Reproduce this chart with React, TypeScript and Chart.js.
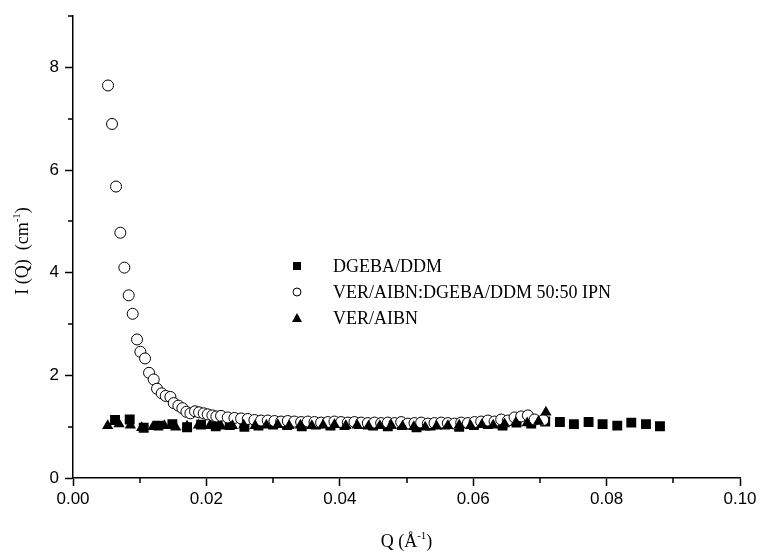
import React, { useEffect, useRef } from "react";
import { Chart, registerables } from "chart.js";

Chart.register(...registerables);

// ---- data ----
const ipnQ = [
  0.00525, 0.00585, 0.00645, 0.0071, 0.0077, 0.00835, 0.00895, 0.0096, 0.0101, 0.0108,
  0.0114, 0.0121, 0.0126, 0.0133, 0.0139, 0.0146, 0.0151, 0.0158, 0.0164, 0.017,
  0.0176, 0.0183, 0.0189, 0.0196, 0.0202, 0.0209, 0.0215, 0.0222, 0.0232, 0.0242,
  0.0252, 0.0262, 0.0272, 0.0282, 0.0292, 0.0302, 0.0312, 0.0322, 0.0332, 0.0342,
  0.0352, 0.0362, 0.0372, 0.0382, 0.0392, 0.0402, 0.0412, 0.0422, 0.0432, 0.0442,
  0.0452, 0.0462, 0.0472, 0.0482, 0.0492, 0.0502, 0.0512, 0.0522, 0.0532, 0.0542,
  0.0552, 0.0562, 0.0572, 0.0582, 0.0592, 0.0602, 0.0612, 0.0622, 0.0632, 0.0642,
  0.0652, 0.0662, 0.0672, 0.0682, 0.0692, 0.0705,
];
const ipnI = [
  7.65, 6.9, 5.68, 4.78, 4.1, 3.56, 3.2, 2.7, 2.46, 2.33,
  2.05, 1.92, 1.74, 1.65, 1.6, 1.58, 1.46, 1.41, 1.36, 1.29,
  1.26, 1.3, 1.28, 1.26, 1.24, 1.22, 1.2, 1.21, 1.18, 1.17,
  1.16, 1.15, 1.13, 1.12, 1.12, 1.11, 1.1, 1.11, 1.1, 1.09,
  1.1, 1.09, 1.08, 1.09, 1.1, 1.09, 1.08, 1.09, 1.08, 1.07,
  1.08, 1.07, 1.08, 1.07, 1.09, 1.06, 1.07, 1.08, 1.06, 1.07,
  1.08, 1.07, 1.06, 1.08, 1.07, 1.09, 1.1, 1.12, 1.1, 1.14,
  1.12, 1.18, 1.2, 1.22, 1.14, 1.13,
];

const dgebaQ = [
  0.0063, 0.0085, 0.0106, 0.0128, 0.0149, 0.0171, 0.0192, 0.0214, 0.0235, 0.0257,
  0.0278, 0.03, 0.0321, 0.0343, 0.0364, 0.0386, 0.0407, 0.0429, 0.045, 0.0472,
  0.0493, 0.0515, 0.0536, 0.0558, 0.0579, 0.0601, 0.0622, 0.0644, 0.0665, 0.0687,
  0.0708, 0.073, 0.0751, 0.0773, 0.0794, 0.0816, 0.0837, 0.0859, 0.088,
];
const dgebaI = [
  1.13, 1.14, 0.98, 1.02, 1.05, 0.99, 1.04, 1.01, 1.03, 1.0,
  1.02, 1.04, 1.03, 1.01, 1.04, 1.02, 1.03, 1.05, 1.02, 1.01,
  1.03, 0.99, 1.02, 1.04, 1.0, 1.03, 1.05, 1.02, 1.08, 1.06,
  1.1, 1.09, 1.05, 1.09, 1.05, 1.02, 1.08, 1.05, 1.01,
];

const verQ = [
  0.0052, 0.0069, 0.0086, 0.0103, 0.012, 0.0137, 0.0154, 0.0171, 0.0188, 0.0205,
  0.0222, 0.0239, 0.0256, 0.0273, 0.029, 0.0307, 0.0324, 0.0341, 0.0358, 0.0375,
  0.0392, 0.0409, 0.0426, 0.0443, 0.046, 0.0477, 0.0494, 0.0511, 0.0528, 0.0545,
  0.0562, 0.0579, 0.0596, 0.0613, 0.063, 0.0647, 0.0664, 0.0681, 0.0698, 0.0709,
];
const verI = [
  1.02, 1.05, 1.03, 0.98, 1.0, 1.02, 0.99, 1.01, 1.03, 1.02,
  1.01, 1.02, 1.03, 1.02, 1.03, 1.04, 1.02, 1.03, 1.02, 1.03,
  1.04, 1.02, 1.03, 1.01, 1.02, 1.03, 1.01, 1.0, 0.99, 1.01,
  1.02, 1.03, 1.02, 1.04, 1.03, 1.05, 1.08, 1.07, 1.1, 1.28,
];

const seriesNames = ["DGEBA/DDM", "VER/AIBN:DGEBA/DDM 50:50 IPN", "VER/AIBN"];
const xTicks = [0, 0.02, 0.04, 0.06, 0.08, 0.1];
const xMinorTicks = [0.01, 0.03, 0.05, 0.07, 0.09];
const yTicks = [0, 2, 4, 6, 8];
const yMinorTicks = [1, 3, 5, 7, 9];

const SERIF = "'Liberation Serif', 'Times New Roman', serif";
const SANS = "'Liberation Sans', Arial, sans-serif";

const zip = (xs: number[], ys: number[]) => xs.map((x, i) => ({ x, y: ys[i] }));

const decorPlugin = {
  id: "decor",
  afterDraw(chart: any) {
    const ctx = chart.ctx as CanvasRenderingContext2D;
    const xs = chart.scales.x;
    const ys = chart.scales.y;
    const area = chart.chartArea;
    ctx.save();
    ctx.strokeStyle = "#000";
    ctx.lineWidth = 1.5;
    // minor ticks
    ctx.beginPath();
    for (const v of xMinorTicks) {
      const px = Math.round(xs.getPixelForValue(v));
      ctx.moveTo(px, area.bottom);
      ctx.lineTo(px, area.bottom + 5);
    }
    for (const v of yMinorTicks) {
      const py = Math.round(ys.getPixelForValue(v));
      ctx.moveTo(area.left, py);
      ctx.lineTo(area.left - 5, py);
    }
    ctx.stroke();

    ctx.fillStyle = "#000";
    // x title: Q (Å-1)
    {
      const main = "18px " + SERIF;
      const sup = "11px " + SERIF;
      const parts = [
        { t: "Q (Å", f: main, dy: 0 },
        { t: "-1", f: sup, dy: -8 },
        { t: ")", f: main, dy: 0 },
      ];
      let w = 0;
      for (const p of parts) {
        ctx.font = p.f;
        w += ctx.measureText(p.t).width;
      }
      let x = (area.left + area.right) / 2 - w / 2;
      const y = 547;
      ctx.textBaseline = "alphabetic";
      ctx.textAlign = "left";
      for (const p of parts) {
        ctx.font = p.f;
        ctx.fillText(p.t, x, y + p.dy);
        x += ctx.measureText(p.t).width;
      }
    }
    // y title: I (Q) (cm-1)
    {
      const main = "18px " + SERIF;
      const sup = "11px " + SERIF;
      const parts = [
        { t: "I (Q)  (cm", f: main, dy: 0 },
        { t: "-1", f: sup, dy: -8 },
        { t: ")", f: main, dy: 0 },
      ];
      let w = 0;
      for (const p of parts) {
        ctx.font = p.f;
        w += ctx.measureText(p.t).width;
      }
      ctx.save();
      ctx.translate(28, 251);
      ctx.rotate(-Math.PI / 2);
      let x = -w / 2;
      ctx.textBaseline = "alphabetic";
      ctx.textAlign = "left";
      for (const p of parts) {
        ctx.font = p.f;
        ctx.fillText(p.t, x, p.dy);
        x += ctx.measureText(p.t).width;
      }
      ctx.restore();
    }
    // legend
    {
      const mx = 297;
      const tx = 333;
      const rows = [266, 292, 318];
      ctx.font = "18px " + SERIF;
      ctx.textBaseline = "middle";
      ctx.textAlign = "left";
      rows.forEach((ry, i) => {
        ctx.fillStyle = "#000";
        ctx.strokeStyle = "#000";
        ctx.lineWidth = 1;
        if (i === 0) {
          ctx.fillRect(mx - 4, ry - 4, 8, 8);
        } else if (i === 1) {
          ctx.beginPath();
          ctx.arc(mx, ry, 4, 0, Math.PI * 2);
          ctx.fillStyle = "#fff";
          ctx.fill();
          ctx.stroke();
          ctx.fillStyle = "#000";
        } else {
          ctx.beginPath();
          ctx.moveTo(mx, ry - 5);
          ctx.lineTo(mx + 5, ry + 4);
          ctx.lineTo(mx - 5, ry + 4);
          ctx.closePath();
          ctx.fill();
        }
        ctx.fillText(seriesNames[i], tx, ry + 1);
      });
    }
    ctx.restore();
  },
};

export default function App() {
  const ref = useRef<HTMLCanvasElement | null>(null);
  useEffect(() => {
    document.body.style.margin = "0";
    const canvas = ref.current!;
    const chart = new Chart(canvas, {
      type: "scatter",
      data: {
        datasets: [
          {
            label: seriesNames[0],
            data: zip(dgebaQ, dgebaI),
            pointStyle: "rect",
            pointRadius: 7,
            backgroundColor: "#000",
            borderColor: "#000",
            borderWidth: 0,
            order: 3,
          },
          {
            label: seriesNames[1],
            data: zip(ipnQ, ipnI),
            pointStyle: "circle",
            pointRadius: 5.5,
            backgroundColor: "#fff",
            borderColor: "#000",
            borderWidth: 1,
            order: 2,
          },
          {
            label: seriesNames[2],
            data: zip(verQ, verI),
            pointStyle: "triangle",
            pointRadius: 6.5,
            backgroundColor: "#000",
            borderColor: "#000",
            borderWidth: 0,
            order: 1,
          },
        ],
      },
      options: {
        responsive: false,
        animation: false,
        devicePixelRatio: 1,
        layout: { padding: { left: 0, right: 24, top: 14, bottom: 0 } },
        plugins: { legend: { display: false }, tooltip: { enabled: false } },
        scales: {
          x: {
            type: "linear",
            min: 0,
            max: 0.1,
            afterBuildTicks: (s: any) => {
              s.ticks = xTicks.map((v) => ({ value: v }));
            },
            afterFit: (s: any) => {
              s.height = 76;
            },
            ticks: {
              callback: (v: any) => Number(v).toFixed(2),
              font: { family: SANS, size: 17 },
              color: "#000",
              padding: 3,
              maxRotation: 0,
            },
            grid: {
              display: true,
              drawOnChartArea: false,
              drawTicks: true,
              tickLength: 8,
              tickWidth: 1.5,
              tickColor: "#000",
              color: "#000",
            },
            border: { display: true, color: "#000", width: 1.5 },
          },
          y: {
            type: "linear",
            min: 0,
            max: 9,
            afterBuildTicks: (s: any) => {
              s.ticks = yTicks.map((v) => ({ value: v }));
            },
            afterFit: (s: any) => {
              s.width = 73;
            },
            ticks: {
              callback: (v: any) => String(v),
              font: { family: SANS, size: 17 },
              color: "#000",
              padding: 6,
            },
            grid: {
              display: true,
              drawOnChartArea: false,
              drawTicks: true,
              tickLength: 8,
              tickWidth: 1.5,
              tickColor: "#000",
              color: "#000",
            },
            border: { display: true, color: "#000", width: 1.5 },
          },
        },
      },
      plugins: [decorPlugin],
    });
    return () => chart.destroy();
  }, []);
  return (
    <div style={{ position: "absolute", left: 0, top: 0, width: 764, height: 554, background: "#fff" }}>
      <canvas ref={ref} width={764} height={554} />
    </div>
  );
}
